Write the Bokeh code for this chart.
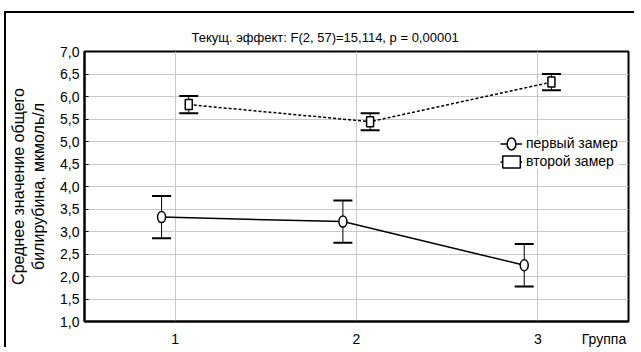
import numpy as np
from bokeh.plotting import figure
from bokeh.models import (ColumnDataSource, Whisker, TeeHead, Legend, LegendItem,
                          FixedTicker, CustomJSTickFormatter)
from bokeh.embed import file_html
from bokeh.resources import INLINE

# ---- data ----
groups = [1, 2, 3]
first_mean = [3.32, 3.22, 2.25]
first_err = [0.47, 0.47, 0.47]
second_mean = [5.82, 5.44, 6.32]
second_err = [0.19, 0.19, 0.18]
series_labels = ["первый замер", "второй замер"]
x_ticks = [1, 2, 3]
y_ticks = [1.0, 1.5, 2.0, 2.5, 3.0, 3.5, 4.0, 4.5, 5.0, 5.5, 6.0, 6.5, 7.0]
x_label = "Группа"
y_label = "Среднее значение общего\nбилирубина, мкмоль/л"
title_text = "Текущ.  эффект: F(2, 57)=15,114, p = 0,00001"

FONT = "Liberation Sans"
DODGE = 0.075
NAME_POS = 3.365          # where the x-axis name sits on the tick-label row
W, H = 630, 336

p = figure(width=W, height=H, x_range=(0.5, 3.5), y_range=(1.0, 7.0),
           output_backend="svg", toolbar_location=None,
           min_border_left=76, min_border_right=8, min_border_top=38, min_border_bottom=28)
p.margin = (11, 0, 0, 4)
p.styles = {"border-left": "2px solid black", "border-top": "2px solid black"}
p.outline_line_color = "black"
p.outline_line_width = 2
p.background_fill_color = "white"
p.border_fill_color = "white"

# title
p.title.text = title_text
p.title.align = "left"
p.title.offset = 107
p.title.vertical_align = "top"
p.title.text_font = FONT
p.title.text_font_size = "13px"
p.title.text_font_style = "normal"
p.title.text_color = "black"

# axes
p.xaxis.ticker = FixedTicker(ticks=x_ticks + [NAME_POS])
p.xaxis.formatter = CustomJSTickFormatter(args=dict(name=x_label, pos=NAME_POS),
                                          code="return Math.abs(tick - pos) < 1e-6 ? name : tick.toFixed(0);")
p.yaxis.ticker = FixedTicker(ticks=y_ticks)
p.yaxis.formatter = CustomJSTickFormatter(code="return tick.toFixed(1).replace('.', ',');")
for ax in (p.xaxis[0], p.yaxis[0]):
    ax.axis_line_color = "black"
    ax.axis_line_width = 2
    ax.major_tick_out = 0
    ax.major_tick_line_color = "black"
    ax.minor_tick_line_color = None
    ax.major_label_text_font = FONT
    ax.major_label_text_font_size = "14px"
    ax.major_label_text_color = "black"
p.xaxis.major_tick_in = 0
p.yaxis.major_tick_in = 4
p.xaxis.major_label_standoff = 9

p.yaxis.major_label_standoff = 5
p.yaxis.axis_label = y_label
p.yaxis.axis_label_text_font = FONT
p.yaxis.axis_label_text_font_size = "16px"
p.yaxis.axis_label_text_font_style = "normal"
p.yaxis.axis_label_text_color = "black"
p.yaxis.axis_label_standoff = 10

p.xgrid.ticker = FixedTicker(ticks=x_ticks)
p.ygrid.ticker = FixedTicker(ticks=y_ticks)
p.grid.grid_line_color = "#c8c8c8"
p.grid.grid_line_width = 1

gx = np.array(groups, dtype=float)
src1 = ColumnDataSource(dict(x=gx - DODGE, y=first_mean,
                             lo=np.array(first_mean) - np.array(first_err),
                             hi=np.array(first_mean) + np.array(first_err)))
src2 = ColumnDataSource(dict(x=gx + DODGE, y=second_mean,
                             lo=np.array(second_mean) - np.array(second_err),
                             hi=np.array(second_mean) + np.array(second_err)))

for src in (src1, src2):
    w = Whisker(source=src, base="x", upper="hi", lower="lo", dimension="height",
                line_color="black", line_width=1,
                upper_head=TeeHead(size=19, line_width=2, line_color="black"),
                lower_head=TeeHead(size=19, line_width=2, line_color="black"))
    p.add_layout(w)

l1 = p.line("x", "y", source=src1, line_color="black", line_width=1.5)
m1 = p.ellipse("x", "y", width=8, height=11, width_units="screen", height_units="screen",
               source=src1, fill_color="white", line_color="black", line_width=1.5)
l2 = p.line("x", "y", source=src2, line_color="black", line_width=1.5, line_dash="3 2")
m2 = p.rect("x", "y", width=7, height=10, width_units="screen", height_units="screen",
            source=src2, fill_color="white", line_color="black", line_width=1.5)

legend = Legend(items=[LegendItem(label=series_labels[0], renderers=[l1, m1]),
                       LegendItem(label=series_labels[1], renderers=[l2, m2])],
                location=(416, 152), orientation="vertical",
                label_text_font=FONT, label_text_font_size="14px",
                label_text_color="black", glyph_width=22, glyph_height=15,
                label_height=15, spacing=2, padding=3, margin=0,
                border_line_color=None, background_fill_color="white",
                background_fill_alpha=1.0, label_standoff=4)
p.add_layout(legend)

open("out.html", "w").write(file_html(p, INLINE))
